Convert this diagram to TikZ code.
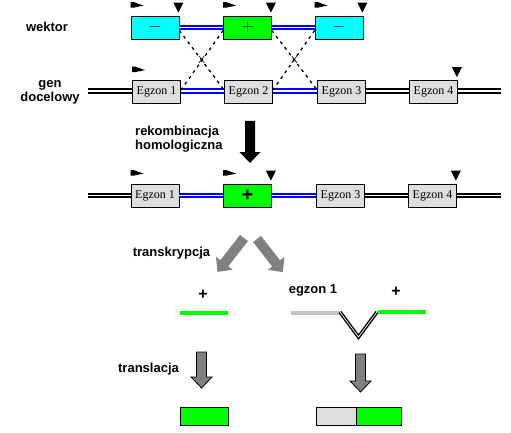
\documentclass[tikz,border=0pt]{standalone}
\usepackage{fontspec}
\setmainfont{Liberation Serif}
\setsansfont{Liberation Sans}
\usetikzlibrary{positioning}
\definecolor{egzgray}{RGB}{222,222,222}
\definecolor{rnagray}{RGB}{196,196,196}
\definecolor{vcyan}{RGB}{0,255,255}
\definecolor{vgreen}{RGB}{0,255,0}
\definecolor{arrowgray}{RGB}{128,128,128}
\newcommand{\promoter}[1]{\fill ([shift={(0pt,8pt)}]#1.north west) rectangle ++(4pt,5.5pt)
  ([shift={(3pt,8pt)}]#1.north west) -- ++(0pt,5.5pt) -- ++(10pt,-3.5pt) -- cycle;}
\newcommand{\stopsite}[1]{\fill ([shift={(-1pt,3pt)}]#1.north east) -- ++(-5pt,10pt) -- ++(10pt,0pt) -- cycle;}
\newcommand{\fatarrow}[4][]{%
  \begin{scope}[shift={#2}, rotate=#3]
    \path[#1] (0pt,5pt) -- ({#4pt-11pt},5pt) -- ({#4pt-11pt},10.5pt) -- (#4pt,0pt)
      -- ({#4pt-11pt},-10.5pt) -- ({#4pt-11pt},-5pt) -- (0pt,-5pt) -- cycle;
  \end{scope}}

\begin{document}
\begin{tikzpicture}[
    box/.style={draw, line width=0.8pt, minimum width=48pt, minimum height=23pt, inner sep=0pt},
    egzon/.style={box, fill=egzgray, font=\fontsize{12}{12}\selectfont},
    vminus/.style={box, fill=vcyan, font=\fontsize{16}{16}\selectfont},
    vplus/.style={box, fill=vgreen, font=\fontsize{16}{16}\selectfont},
    caption/.style={font=\sffamily\bfseries\fontsize{13}{14}\selectfont, align=center, inner sep=0pt},
    dnapair/.style={draw=black, line width=1.7pt, double=white, double distance=1.8pt},
    vecpair/.style={dnapair, draw=blue},
    crossline/.style={dashed, dash pattern=on 3pt off 4pt, line width=1.3pt},
    xmark/.style={font=\sffamily\fontsize{10}{10}\selectfont, inner sep=0pt},
    strand/.style={line width=4pt},
    splice/.style={draw=black, line width=1.4pt, double=white, double distance=0.7pt},
    prot/.style={draw, line width=0.8pt, minimum height=18pt, inner sep=0pt}]
    \pgfsetxvec{\pgfpoint{1pt}{0}}
    \pgfsetyvec{\pgfpoint{0}{-1pt}}
    \useasboundingbox (0,0) rectangle (511,433);

    % wektor
    \node[caption] (lwek) at (47,27) {wektor};
    \node[vminus] (v1) at (155,27.5) {$-$};
    \node[vplus] (v2) at (247.5,27.5) {$+$};
    \node[vminus] (v3) at (339,27.5) {$-$};
    \draw[vecpair] (v1.east) -- (v2.west);
    \draw[vecpair] (v2.east) -- (v3.west);
    \foreach \n in {v1,v2,v3} {
      \promoter{\n}
      \stopsite{\n}
    }

    % gen docelowy
    \node[caption] (lgen) at (50,92) {gen\\docelowy};
    \foreach \i/\x in {1/156.5,2/248.5,3/341.5,4/433.5} {
      \node[egzon] (a\i) at (\x,92) {Egzon \i};
    }
    \coordinate (al) at (88,91);
    \coordinate (ar) at (501,91);
    \draw[dnapair] (al) -- (al -| a1.west);
    \draw[vecpair] (al -| a1.east) -- (al -| a2.west);
    \draw[vecpair] (al -| a2.east) -- (al -| a3.west);
    \draw[dnapair] (al -| a3.east) -- (al -| a4.west);
    \draw[dnapair] (al -| a4.east) -- (ar);
    \promoter{a1}
    \stopsite{a4}

    % crossing over
    \draw[crossline] ([yshift=-3pt]v1.east) -- node[xmark]{X} ([yshift=2pt]a2.west);
    \draw[crossline] ([yshift=-3pt]v2.west) -- ([yshift=2pt]a1.east);
    \draw[crossline] ([yshift=-3pt]v2.east) -- node[xmark]{X} ([yshift=2pt]a3.west);
    \draw[crossline] ([yshift=-3pt]v3.west) -- ([yshift=2pt]a2.east);

    % rekombinacja
    \node[caption, anchor=west, align=left] (lrek) at (135,138.7) {rekombinacja\\homologiczna};
    \fatarrow[fill=black]{(250,121)}{-90}{42}

    \node[egzon] (b1) at (155,195.5) {Egzon 1};
    \node[vplus, font=\sffamily\bfseries\fontsize{20}{20}\selectfont] (b2) at (247.5,195.5) {+};
    \node[egzon] (b3) at (340.5,195.5) {Egzon 3};
    \node[egzon] (b4) at (432.5,195.5) {Egzon 4};
    \coordinate (bl) at (88,195.5);
    \coordinate (br) at (501,195.5);
    \draw[dnapair] (bl) -- (b1.west);
    \draw[vecpair] (b1.east) -- (b2.west);
    \draw[vecpair] (b2.east) -- (b3.west);
    \draw[dnapair] (b3.east) -- (b4.west);
    \draw[dnapair] (b4.east) -- (br);
    \promoter{b1}
    \promoter{b2}
    \stopsite{b2}
    \stopsite{b4}

    % transkrypcja
    \node[caption] (ltrs) at (171.5,253) {transkrypcja};
    \fatarrow[fill=arrowgray]{(244,238)}{232}{43}
    \fatarrow[fill=arrowgray]{(257,239)}{-52}{42}

    \node[caption, font=\sffamily\bfseries\fontsize{16}{16}\selectfont] (lp1) at (203,295) {+};
    \node[caption] (lex1) at (313,290) {egzon 1};
    \node[caption, font=\sffamily\bfseries\fontsize{16}{16}\selectfont] (lp2) at (396,292) {+};
    \draw[strand, vgreen] (180,313) -- (228,313);
    \draw[strand, rnagray] (291,313) -- (340,313);
    \draw[splice] (340,312) -- (358.5,337) -- (377,312);
    \draw[strand, vgreen] (378,312) -- (426,312);

    % translacja
    \node[caption] (ltrl) at (148.5,369) {translacja};
    \fatarrow[fill=arrowgray, draw=black, line width=0.8pt]{(201.5,352)}{-90}{36}
    \fatarrow[fill=arrowgray, draw=black, line width=0.8pt]{(360.5,354)}{-90}{38}

    \node[prot, fill=vgreen, minimum width=48pt] (p1) at (204,416) {};
    \node[prot, fill=egzgray, minimum width=40pt] (p2) at (336,416) {};
    \node[prot, fill=vgreen, minimum width=45pt, anchor=west] (p3) at (p2.east) {};
  \end{tikzpicture}
\end{document}
